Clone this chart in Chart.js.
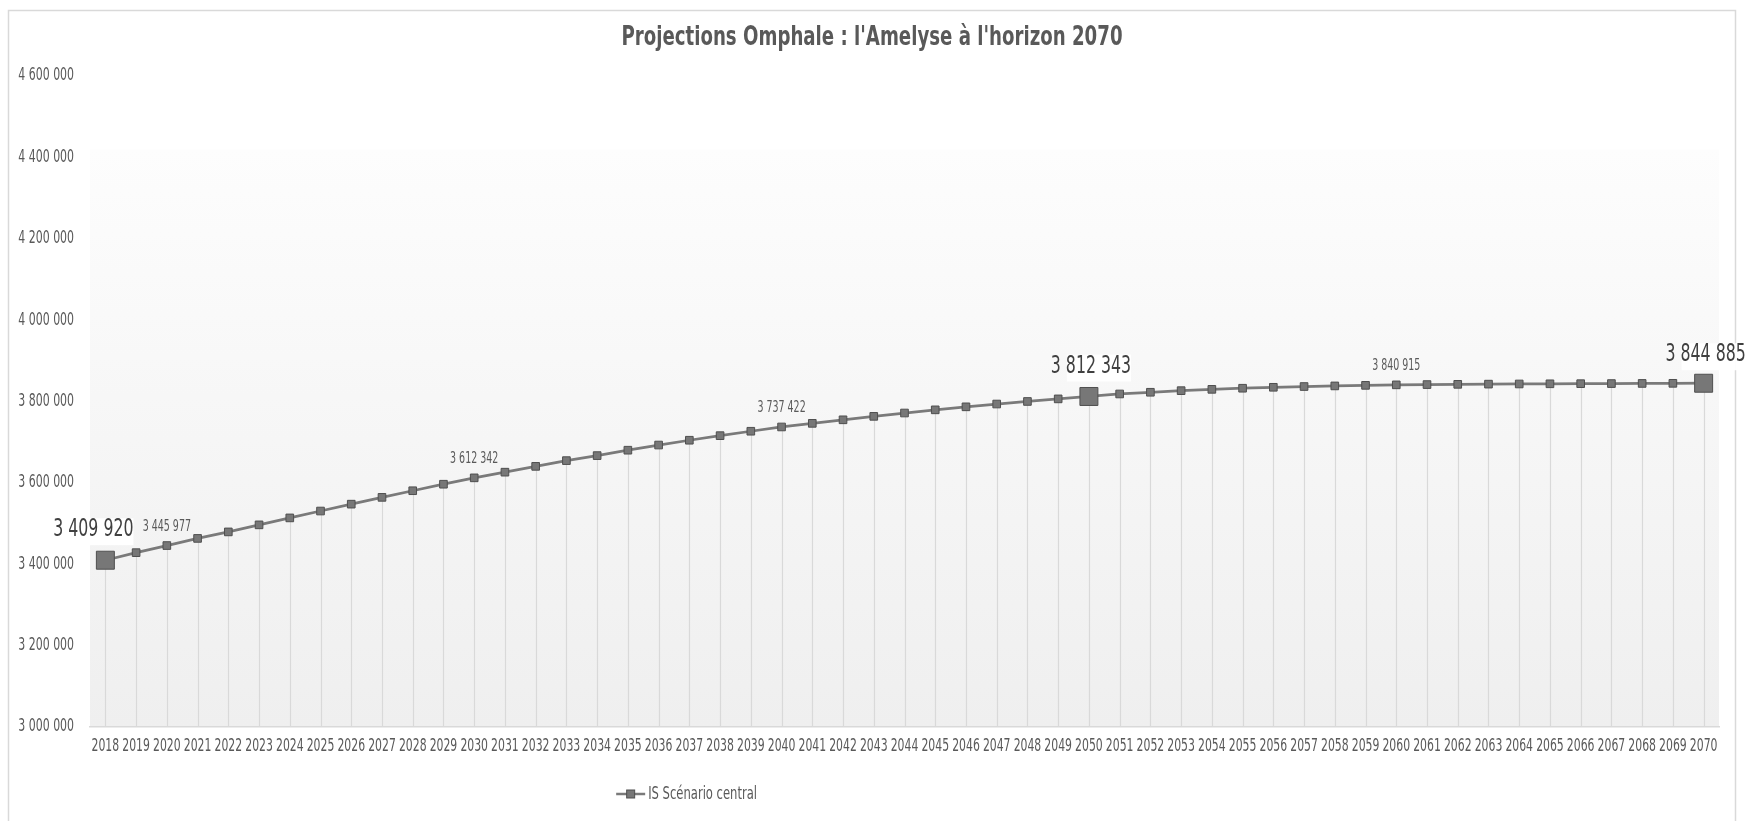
<!DOCTYPE html>
<html>
<head>
<meta charset="utf-8">
<script src="https://cdn.jsdelivr.net/npm/chart.js@4.4.1/dist/chart.umd.min.js"></script>
<style>
  html, body { margin: 0; padding: 0; background: #ffffff; }
  #wrap { position: relative; width: 1750px; height: 821px; }
  canvas { display: block; }
</style>
</head>
<body>
<div id="wrap"><canvas id="c" width="1750" height="821"></canvas></div>
<script>
// ---- Data ----
const chartTitle = "Projections Omphale : l'Amelyse à l'horizon 2070";
const seriesName = "IS Scénario central";
const years = ['2018','2019','2020','2021','2022','2023','2024','2025','2026','2027',
  '2028','2029','2030','2031','2032','2033','2034','2035','2036','2037',
  '2038','2039','2040','2041','2042','2043','2044','2045','2046','2047',
  '2048','2049','2050','2051','2052','2053','2054','2055','2056','2057',
  '2058','2059','2060','2061','2062','2063','2064','2065','2066','2067',
  '2068','2069','2070'];
const population = [3409920, 3428500, 3445977, 3463500, 3479500, 3496800, 3513900, 3530800, 3547700, 3564400,
  3580700, 3596700, 3612342, 3626300, 3640600, 3654700, 3667000, 3680300, 3693000, 3704800,
  3716000, 3726900, 3737422, 3746300, 3755000, 3763500, 3771700, 3779500, 3786900, 3793800,
  3800100, 3806400, 3812343, 3818500, 3822700, 3826600, 3829900, 3832600, 3834900, 3836800,
  3838300, 3839700, 3840915, 3841600, 3842200, 3842700, 3843100, 3843500, 3843800, 3844100,
  3844400, 3844700, 3844885];
const yMin = 3000000;
const yMax = 4600000;
const yStep = 200000;
const bigLabelYears = ['2018', '2050', '2070'];
const smallLabelYears = ['2020', '2030', '2040', '2060'];

// ---- Helpers / styles ----
const FONT = "'DejaVu Sans Condensed', 'Liberation Sans Narrow', sans-serif";
const TXT = '#595959';
function fmt(v) {
  return String(Math.round(v)).replace(/\B(?=(\d{3})+(?!\d))/g, ' ');
}
const isBig = (i) => bigLabelYears.includes(years[i]);
const bigLabelPos = (p, i) => ({ x: p.x + (i === 0 ? -12 : 2), y: p.y - (i === years.length - 1 ? 28 : 30) });

// condensed text drawing (horizontal squeeze to mimic a condensed face)
function drawText(ctx, s, x, y, o) {
  ctx.save();
  ctx.font = (o.weight || 'normal') + ' ' + o.size + 'px ' + FONT;
  ctx.fillStyle = o.color || TXT;
  ctx.textAlign = o.align || 'center';
  ctx.textBaseline = 'middle';
  ctx.translate(x, y);
  ctx.scale(o.sx || 1, 1);
  ctx.fillText(s, 0, 0);
  ctx.restore();
}
function textWidth(ctx, s, o) {
  ctx.save();
  ctx.font = (o.weight || 'normal') + ' ' + o.size + 'px ' + FONT;
  const w = ctx.measureText(s).width * (o.sx || 1);
  ctx.restore();
  return w;
}
const ST = {
  title: { size: 27, weight: 'bold', sx: 0.748, color: TXT },
  yTick: { size: 17, sx: 0.715, color: TXT, align: 'right' },
  xTick: { size: 17, sx: 0.71, color: TXT },
  small: { size: 15.5, sx: 0.68, color: TXT },
  big: { size: 24, sx: 0.73, color: '#404040' },
  legend: { size: 17.4, sx: 0.74, color: TXT, align: 'left' }
};

const framePlugin = {
  id: 'frame',
  beforeDraw(chart) {
    const { ctx, chartArea: a } = chart;
    ctx.save();
    ctx.fillStyle = '#ffffff';
    ctx.fillRect(0, 0, chart.width, chart.height);
    ctx.strokeStyle = '#d9d9d9';
    ctx.lineWidth = 1.5;
    ctx.strokeRect(8.5, 10.5, 1727, 830);
    // plot background gradient
    const top = a.top + (a.bottom - a.top) * 0.113;
    const g = ctx.createLinearGradient(0, top, 0, a.bottom);
    g.addColorStop(0, '#fdfdfd');
    g.addColorStop(1, '#efefef');
    ctx.fillStyle = g;
    ctx.fillRect(a.left, top, a.right - a.left, a.bottom - top);
    ctx.restore();
  },
  beforeDatasetsDraw(chart) {
    const { ctx } = chart;
    const meta = chart.getDatasetMeta(0);
    const ds = chart.data.datasets[0];
    const yb = chart.scales.y.getPixelForValue(yMin);
    ctx.save();
    ctx.strokeStyle = '#d9d9d9';
    ctx.lineWidth = 1.2;
    meta.data.forEach((p) => {
      ctx.beginPath();
      ctx.moveTo(Math.round(p.x) + 0.5, p.y);
      ctx.lineTo(Math.round(p.x) + 0.5, yb);
      ctx.stroke();
    });
    // label boxes of the highlighted values (under the line)
    meta.data.forEach((p, i) => {
      if (!isBig(i)) return;
      const w = textWidth(ctx, fmt(ds.data[i]), ST.big);
      const c = bigLabelPos(p, i);
      ctx.fillStyle = 'rgba(255,255,255,0.95)';
      ctx.fillRect(c.x - w * 0.3, c.y - 12, w * 0.8, 27);
    });
    ctx.restore();
  },
  afterDatasetsDraw(chart) {
    const { ctx } = chart;
    const meta = chart.getDatasetMeta(0);
    const ds = chart.data.datasets[0];
    meta.data.forEach((p, i) => {
      const yr = years[i];
      const text = fmt(ds.data[i]);
      if (bigLabelYears.includes(yr)) {
        const c = bigLabelPos(p, i);
        drawText(ctx, text, c.x, c.y, ST.big);
      } else if (smallLabelYears.includes(yr)) {
        drawText(ctx, text, p.x, p.y - 19, ST.small);
      }
    });
  },
  afterDraw(chart) {
    const { ctx, chartArea: a } = chart;
    const ds = chart.data.datasets[0];
    // title (centred on the outer frame)
    drawText(ctx, chartTitle, 8.5 + 1727 / 2, 38, ST.title);
    // axis tick labels, positioned through the library's scales
    const xs = chart.scales.x;
    xs.ticks.forEach((t, i) => {
      drawText(ctx, xs.getLabelForValue(t.value), xs.getPixelForTick(i), xs.top + 19.7, ST.xTick);
    });
    const ys = chart.scales.y;
    ys.ticks.forEach((t) => {
      drawText(ctx, fmt(t.value), ys.right - 16, ys.getPixelForValue(t.value), ST.yTick);
    });
    // legend
    const lx = a.left + (a.right - a.left) * 0.323;
    const ly = 794;
    ctx.save();
    ctx.strokeStyle = ds.borderColor;
    ctx.lineWidth = 2.5;
    ctx.beginPath();
    ctx.moveTo(lx, ly);
    ctx.lineTo(lx + 29, ly);
    ctx.stroke();
    ctx.fillStyle = ds.pointBackgroundColor;
    ctx.strokeStyle = ds.pointBorderColor;
    ctx.lineWidth = 1;
    ctx.fillRect(lx + 10.5, ly - 4, 8, 8);
    ctx.strokeRect(lx + 10.5, ly - 4, 8, 8);
    ctx.restore();
    drawText(ctx, ds.label, lx + 32, ly, ST.legend);
  }
};

new Chart(document.getElementById('c'), {
  type: 'line',
  data: {
    labels: years,
    datasets: [{
      label: seriesName,
      data: population,
      borderColor: '#7a7a7a',
      borderWidth: 2.75,
      tension: 0,
      pointStyle: 'rect',
      pointBackgroundColor: '#777777',
      pointBorderColor: '#4f4f4f',
      pointBorderWidth: 1,
      pointRadius: (c) => isBig(c.dataIndex) ? 12.7 : 5.4,
      pointHoverRadius: (c) => isBig(c.dataIndex) ? 12.7 : 5.4,
      fill: false
    }]
  },
  options: {
    responsive: false,
    animation: false,
    events: [],
    layout: { padding: { left: 0, right: 31, top: 76, bottom: 64 } },
    plugins: {
      legend: { display: false },
      tooltip: { enabled: false },
      title: { display: false, text: chartTitle }
    },
    scales: {
      x: {
        offset: true,
        grid: { display: false, drawTicks: false, offset: false },
        border: { display: true, color: '#d9d9d9', width: 1.5 },
        ticks: { display: false, autoSkip: false, maxRotation: 0, minRotation: 0 },
        afterFit(s) { s.height = 30; }
      },
      y: {
        min: yMin, max: yMax,
        grid: { display: false, drawTicks: false },
        border: { display: false },
        ticks: { display: false, stepSize: yStep },
        afterFit(s) { s.width = 90; }
      }
    }
  },
  plugins: [framePlugin]
});
</script>
</body>
</html>
